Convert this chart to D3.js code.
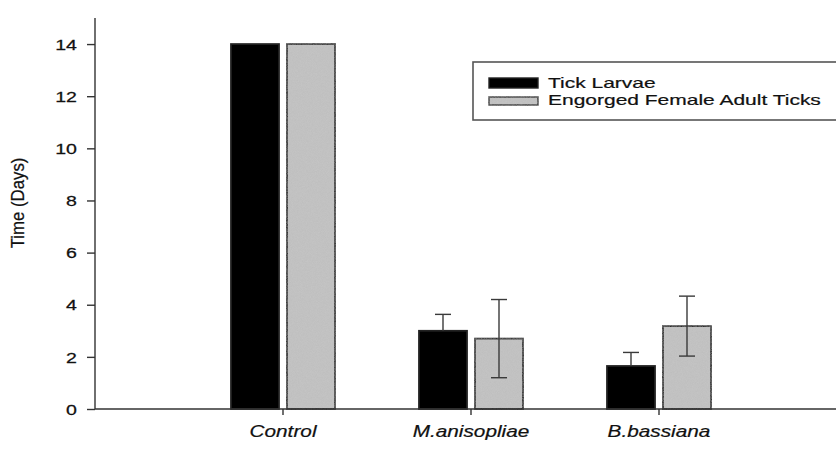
<!DOCTYPE html>
<html>
<head>
<meta charset="utf-8">
<script src="https://cdn.jsdelivr.net/npm/d3@7"></script>
<style>
  body { margin: 0; background: #fff; }
  svg { display: block; font-family: "Liberation Sans", Arial, sans-serif; }
</style>
</head>
<body>
<svg id="chart" width="836" height="450"></svg>
<script>
const categories = ["Control", "M.anisopliae", "B.bassiana"];
const seriesNames = ["Tick Larvae", "Engorged Female Adult Ticks"];
const larvae = [14, 3.0, 1.65];
const larvaeErr = [0, 0.63, 0.52];
const adults = [14, 2.7, 3.18];
const adultsErr = [0, 1.5, 1.15];
const yTicks = [0, 2, 4, 6, 8, 10, 12, 14];

const svg = d3.select("#chart");
const x0 = 95, yBase = 409;

// noise texture for the grey bars
const defs = svg.append("defs");
const f = defs.append("filter").attr("id", "grain")
  .attr("x", -0.2).attr("y", -0.2).attr("width", 1.4).attr("height", 1.4);
f.append("feTurbulence").attr("type", "fractalNoise").attr("baseFrequency", 1.2).attr("numOctaves", 2).attr("seed", 3).attr("result", "n");
f.append("feColorMatrix").attr("in", "n").attr("type", "matrix")
  .attr("values", "0 0 0 0 0.45  0 0 0 0 0.45  0 0 0 0 0.45  0 0 0 0.5 -0.1").attr("result", "g");
f.append("feComposite").attr("in", "g").attr("in2", "SourceGraphic").attr("operator", "in").attr("result", "g2");
f.append("feMerge").call(m => { m.append("feMergeNode").attr("in", "SourceGraphic"); m.append("feMergeNode").attr("in", "g2"); });

const x = d3.scaleLinear().domain([0, 4]).range([x0, x0 + 752]);
const y = d3.scaleLinear().domain([0, 15]).range([yBase, 18]);

const series = [
  { name: seriesNames[0], values: larvae, err: larvaeErr, fill: "#000", stroke: "#222", dx: -52 },
  { name: seriesNames[1], values: adults, err: adultsErr, fill: "#c4c4c4", stroke: "#2a2a2a", dx: 4 }
];
const barW = 48;

// bars
series.forEach(s => {
  svg.append("g").selectAll("rect").data(s.values).join("rect")
    .attr("x", (d, i) => x(i + 1) + s.dx)
    .attr("y", d => y(d))
    .attr("width", barW)
    .attr("height", d => yBase - y(d))
    .attr("fill", s.fill)
    .attr("stroke", s.stroke)
    .attr("stroke-width", 1.8)
    .attr("filter", s.fill === "#000" ? null : "url(#grain)");
});

// error bars
series.forEach(s => {
  const g = svg.append("g").attr("stroke", "#3a3a3a").attr("stroke-width", 1.4);
  s.values.forEach((v, i) => {
    if (!s.err[i]) return;
    const cx = x(i + 1) + s.dx + barW / 2;
    const lo = s.fill === "#000" ? v : v - s.err[i];
    g.append("line").attr("x1", cx).attr("x2", cx).attr("y1", y(lo)).attr("y2", y(v + s.err[i]));
    g.append("line").attr("x1", cx - 8).attr("x2", cx + 8).attr("y1", y(v + s.err[i])).attr("y2", y(v + s.err[i]));
    if (s.fill !== "#000")
      g.append("line").attr("x1", cx - 8).attr("x2", cx + 8).attr("y1", y(v - s.err[i])).attr("y2", y(v - s.err[i]));
  });
});

// y axis
const yAxis = svg.append("g").attr("transform", `translate(${x0},0)`)
  .call(d3.axisLeft(y).tickValues(yTicks).tickSize(8).tickPadding(0));
yAxis.select(".domain").attr("d", `M0,${y(15)}V${yBase}`);
yAxis.selectAll("line, path").attr("stroke", "#333").attr("stroke-width", 1.4);
yAxis.selectAll("text")
  .attr("font-size", 14.5).attr("fill", "#111").attr("stroke", "#111").attr("stroke-width", 0.25)
  .attr("x", 0).attr("dy", "0.36em")
  .attr("text-anchor", "end")
  .attr("transform", "translate(-18,0) scale(1.35,1)");

// x axis
const xAxis = svg.append("g").attr("transform", `translate(0,${yBase})`)
  .call(d3.axisBottom(x).tickValues([1, 2, 3]).tickFormat(d => categories[d - 1]).tickSize(6).tickPadding(0));
xAxis.select(".domain").attr("d", `M${x0},0H836`);
xAxis.selectAll("line, path").attr("stroke", "#333").attr("stroke-width", 1.4);
xAxis.selectAll("text")
  .attr("font-size", 16).attr("font-style", "italic").attr("fill", "#111")
  .attr("stroke", "#111").attr("stroke-width", 0.2)
  .attr("y", 0).attr("dy", 0)
  .attr("transform", "translate(0,28) scale(1.3,1)");
xAxis.selectAll(".tick").each(function(d) {
  d3.select(this).attr("transform", null).select("line").attr("x1", x(d)).attr("x2", x(d));
  d3.select(this).select("text").attr("x", x(d) / 1.3);
});

// y label
svg.append("text")
  .attr("transform", "translate(24,203) rotate(-90) scale(1.05,1.2)")
  .attr("text-anchor", "middle")
  .attr("font-size", 16).attr("fill", "#111").attr("stroke", "#111").attr("stroke-width", 0.2)
  .text("Time (Days)");

// legend
const lg = svg.append("g");
lg.append("rect").attr("x", 473).attr("y", 62).attr("width", 380).attr("height", 58)
  .attr("fill", "#fff").attr("stroke", "#555").attr("stroke-width", 1.6);
series.forEach((s, i) => {
  const top = i === 0 ? 78 : 97;
  lg.append("rect").attr("x", 489).attr("y", top).attr("width", 49).attr("height", i === 0 ? 10 : 8)
    .attr("fill", s.fill).attr("stroke", s.stroke).attr("stroke-width", 1.4)
    .attr("filter", s.fill === "#000" ? null : "url(#grain)");
  lg.append("text").attr("transform", `translate(548,${i === 0 ? 88 : 105}) scale(1.5,1)`)
    .attr("font-size", 14).attr("fill", "#111").attr("stroke", "#111").attr("stroke-width", 0.2)
    .text(s.name);
});
</script>
</body>
</html>
